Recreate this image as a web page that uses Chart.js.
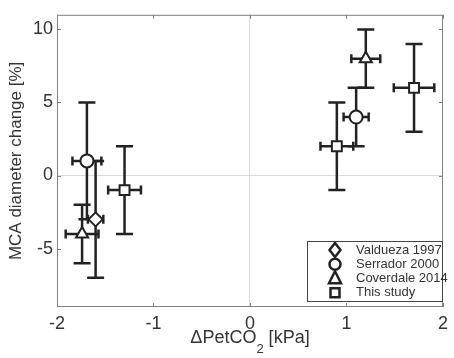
<!DOCTYPE html>
<html>
<head>
<meta charset="utf-8">
<script src="https://cdn.jsdelivr.net/npm/chart.js@4.4.1/dist/chart.umd.min.js"></script>
<style>
  html, body { margin: 0; padding: 0; background: #fff; }
</style>
</head>
<body>
<canvas id="myChart" width="454" height="358"></canvas>
<script>
// Datos
var studies = ["Valdueza 1997", "Serrador 2000", "Coverdale 2014", "This study"];
var pointStyles = ["rectRot", "circle", "triangle", "rect"];

var valduezaX = [-1.6];
var valduezaY = [-3];
var valduezaXErr = [0.08];
var valduezaYErr = [4];

var serradorX = [-1.69, 1.1];
var serradorY = [1, 4];
var serradorXErr = [0.15, 0.13];
var serradorYErr = [4, 2];

var coverdaleX = [-1.74, 1.2];
var coverdaleY = [-4, 8];
var coverdaleXErr = [0.17, 0.15];
var coverdaleYErr = [2, 2];

var thisStudyX = [-1.3, 0.9, 1.7];
var thisStudyY = [-1, 2, 6];
var thisStudyXErr = [0.17, 0.17, 0.21];
var thisStudyYErr = [3, 3, 3];

var xTickValues = [-2, -1, 0, 1, 2];
var yTickValues = [-5, 0, 5, 10];

var xTitle = ["\u0394PetCO", "2", " [kPa]"];
var yTitle = "MCA diameter change [%]";

var FONT = "'Liberation Sans', Arial, sans-serif";
var INK = "#222";
var AXIS = "#808080";

function toPoints(xs, ys, xe, ye) {
  var pts = [];
  for (var i = 0; i < xs.length; i++) {
    pts.push({ x: xs[i], y: ys[i], xErr: xe[i], yErr: ye[i] });
  }
  return pts;
}

var series = [
  toPoints(valduezaX, valduezaY, valduezaXErr, valduezaYErr),
  toPoints(serradorX, serradorY, serradorXErr, serradorYErr),
  toPoints(coverdaleX, coverdaleY, coverdaleXErr, coverdaleYErr),
  toPoints(thisStudyX, thisStudyY, thisStudyXErr, thisStudyYErr),
];

var datasets = studies.map(function (name, i) {
  return {
    label: name,
    data: series[i],
    pointStyle: pointStyles[i],
    pointRadius: pointStyles[i] === "circle" ? 6.5 : 7,
    pointBackgroundColor: "#fff",
    pointBorderColor: INK,
    pointBorderWidth: 2,
    showLine: false,
  };
});

// barras de error (dibujadas con las escalas del gráfico)
var errorBars = {
  id: "errorBars",
  beforeDatasetsDraw: function (chart) {
    var ctx = chart.ctx;
    var xs = chart.scales.x, ys = chart.scales.y;
    ctx.save();
    ctx.strokeStyle = INK;
    ctx.lineWidth = 2.5;
    chart.data.datasets.forEach(function (ds) {
      ds.data.forEach(function (p) {
        var px = xs.getPixelForValue(p.x), py = ys.getPixelForValue(p.y);
        var top = ys.getPixelForValue(p.y + p.yErr), bot = ys.getPixelForValue(p.y - p.yErr);
        var lft = xs.getPixelForValue(p.x - p.xErr), rgt = xs.getPixelForValue(p.x + p.xErr);
        ctx.beginPath();
        ctx.moveTo(px, top); ctx.lineTo(px, bot);
        ctx.moveTo(px - 8.5, top); ctx.lineTo(px + 8.5, top);
        ctx.moveTo(px - 8.5, bot); ctx.lineTo(px + 8.5, bot);
        ctx.moveTo(lft, py); ctx.lineTo(rgt, py);
        ctx.moveTo(lft, py - 4.5); ctx.lineTo(lft, py + 4.5);
        ctx.moveTo(rgt, py - 4.5); ctx.lineTo(rgt, py + 4.5);
        ctx.stroke();
      });
    });
    ctx.restore();
  },
};

// marco tipo MATLAB, ticks hacia dentro, título X y leyenda
var frame = {
  id: "frame",
  beforeDatasetsDraw: function (chart) {
    var ctx = chart.ctx, a = chart.chartArea;
    var xs = chart.scales.x, ys = chart.scales.y;
    ctx.save();
    ctx.strokeStyle = AXIS;
    ctx.lineWidth = 1;
    ctx.strokeRect(a.left + 0.5, a.top + 0.5, a.right - a.left - 1, a.bottom - a.top - 1);
    ctx.beginPath();
    xTickValues.forEach(function (v) {
      var x = Math.round(xs.getPixelForValue(v)) + 0.5;
      ctx.moveTo(x, a.bottom); ctx.lineTo(x, a.bottom - 4);
      ctx.moveTo(x, a.top); ctx.lineTo(x, a.top + 4);
    });
    yTickValues.forEach(function (v) {
      var y = Math.round(ys.getPixelForValue(v)) + 0.5;
      ctx.moveTo(a.left, y); ctx.lineTo(a.left + 4, y);
      ctx.moveTo(a.right, y); ctx.lineTo(a.right - 4, y);
    });
    ctx.stroke();
    ctx.restore();
  },
  afterDraw: function (chart) {
    var ctx = chart.ctx, a = chart.chartArea;
    ctx.save();
    // título eje X con subíndice
    ctx.fillStyle = "#333";
    ctx.textBaseline = "alphabetic";
    var big = "18px " + FONT, small = "13px " + FONT;
    ctx.font = big;
    var w1 = ctx.measureText(xTitle[0]).width, w3 = ctx.measureText(xTitle[2]).width;
    ctx.font = small;
    var w2 = ctx.measureText(xTitle[1]).width;
    var x0 = (a.left + a.right) / 2 - (w1 + w2 + w3) / 2;
    var base = 343;
    ctx.textAlign = "left";
    ctx.font = big; ctx.fillText(xTitle[0], x0, base);
    ctx.font = small; ctx.fillText(xTitle[1], x0 + w1, base + 10);
    ctx.font = big; ctx.fillText(xTitle[2], x0 + w1 + w2, base);

    // leyenda
    var bx = 307, by = 241, bw = a.right - 307, bh = 61;
    ctx.fillStyle = "#fff";
    ctx.fillRect(bx, by, bw, bh);
    ctx.strokeStyle = "#444";
    ctx.lineWidth = 1;
    ctx.strokeRect(bx + 0.5, by + 0.5, bw - 1, bh - 1);
    var rowY = [250, 264.3, 278.3, 292.7];
    ctx.font = "13px " + FONT;
    ctx.textBaseline = "middle";
    chart.data.datasets.forEach(function (ds, i) {
      var cx = 335, cy = rowY[i];
      ctx.strokeStyle = INK;
      ctx.lineWidth = 2.5;
      ctx.fillStyle = "#fff";
      ctx.beginPath();
      if (ds.pointStyle === "rectRot") {
        ctx.moveTo(cx, cy - 7); ctx.lineTo(cx + 5.5, cy); ctx.lineTo(cx, cy + 7); ctx.lineTo(cx - 5.5, cy);
        ctx.closePath();
      } else if (ds.pointStyle === "circle") {
        ctx.arc(cx, cy, 5.5, 0, Math.PI * 2);
      } else if (ds.pointStyle === "triangle") {
        ctx.moveTo(cx, cy - 7); ctx.lineTo(cx + 6, cy + 5); ctx.lineTo(cx - 6, cy + 5);
        ctx.closePath();
      } else {
        ctx.rect(cx - 4.5, cy - 4.5, 9, 9);
      }
      ctx.fill();
      ctx.stroke();
      ctx.fillStyle = "#333";
      ctx.fillText(ds.label, 356, cy);
    });
    ctx.restore();
  },
};

function zeroGrid(c) {
  return c.tick && c.tick.value === 0 ? "#dcdcdc" : "rgba(0,0,0,0)";
}

var ctx = document.getElementById("myChart").getContext("2d");
var myChart = new Chart(ctx, {
  type: "scatter",
  data: { datasets: datasets },
  options: {
    responsive: false,
    animation: false,
    layout: { padding: { top: 11, right: 5, left: 0, bottom: 0 } },
    plugins: {
      legend: { display: false },
      tooltip: { enabled: false },
    },
    scales: {
      x: {
        type: "linear",
        min: -2,
        max: 2,
        afterBuildTicks: function (s) {
          s.ticks = xTickValues.map(function (v) { return { value: v }; });
        },
        afterFit: function (s) { s.height = 51; },
        grid: { color: zeroGrid, drawTicks: false },
        border: { display: false },
        ticks: {
          padding: 6,
          color: "#333",
          font: { family: FONT, size: 18 },
          maxRotation: 0,
          callback: function (v) { return String(v); },
        },
      },
      y: {
        type: "linear",
        min: -9,
        max: 11,
        afterBuildTicks: function (s) {
          s.ticks = yTickValues.map(function (v) { return { value: v }; });
        },
        afterFit: function (s) { s.width = 57; },
        grid: { color: zeroGrid, drawTicks: false },
        border: { display: false },
        ticks: {
          padding: 4,
          color: "#333",
          font: { family: FONT, size: 18 },
          callback: function (v) { return String(v); },
        },
        title: {
          display: true,
          text: yTitle,
          color: "#333",
          padding: { top: 6, bottom: 0 },
          font: { family: FONT, size: 17 },
        },
      },
    },
  },
  plugins: [frame, errorBars],
});
</script>
</body>
</html>
